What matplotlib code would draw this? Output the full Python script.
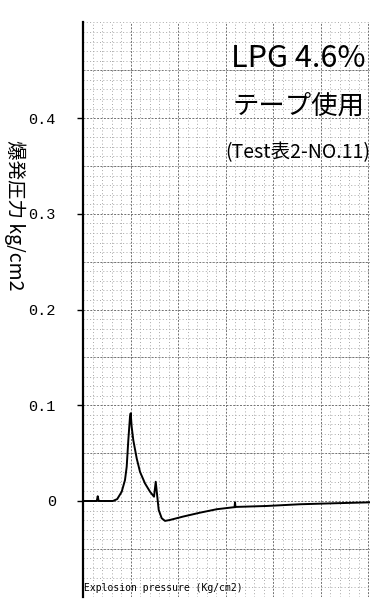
#!/usr/bin/env python3
# Recreate the scanned LPG 4.6% explosion-pressure trace (tape used, Test table 2 No.11)

import numpy as np
import matplotlib
matplotlib.use("Agg")
import matplotlib.pyplot as plt
from matplotlib.ticker import MultipleLocator

# Trace: time in grid divisions, pressure in kg/cm2
time_div = [0.0, 0.29, 0.31, 0.33, 0.63, 0.72, 0.815, 0.884, 0.92, 0.954, 0.989,
            1.004, 1.025, 1.059, 1.131, 1.2, 1.305, 1.411, 1.495, 1.531, 1.564,
            1.594, 1.657, 1.726, 1.832, 2.105, 2.463, 2.815, 3.158, 3.19, 3.2,
            3.21, 3.867, 4.568, 5.263, 6.042]
pressure = [0.0, 0.0, 0.005, 0.0, 0.0, 0.002, 0.0097, 0.0219, 0.0358, 0.0635,
            0.0878, 0.0917, 0.0774, 0.0635, 0.0444, 0.0305, 0.0184, 0.0097,
            0.0045, 0.0201, 0.0045, -0.0094, -0.018, -0.0208, -0.0198, -0.0163,
            -0.0122, -0.0086, -0.0066, -0.0065, -0.0015, -0.0062, -0.0052,
            -0.0034, -0.0024, -0.0014]

ytick_vals = [0.0, 0.1, 0.2, 0.3, 0.4]
ytick_labels = ["0", "0.1", "0.2", "0.3", "0.4"]

ylabel = "爆発圧力 kg/cm2"
notes = ["LPG 4.6%", "テープ使用", "(Test表2-NO.11)"]
xlabel_note = "Explosion pressure (Kg/cm2)"

fig = plt.figure(figsize=(3.83, 6.11), dpi=100)
ax = fig.add_axes([83 / 383, 14.3 / 611, 287 / 383, 574.2 / 611])

ax.set_xlim(0, 6.042)
ax.set_ylim(-0.1, 0.5)

# grid: dashed every division / 0.05, dotted fifths in between
ax.xaxis.set_major_locator(MultipleLocator(1))
ax.xaxis.set_minor_locator(MultipleLocator(0.2))
ax.yaxis.set_minor_locator(MultipleLocator(0.01))
ax.set_yticks(ytick_vals)
ax.set_yticklabels(ytick_labels, family="Liberation Mono", fontsize=11)

ax.grid(which="minor", color="#a8a8a8", linestyle=(0, (1, 2.4)), linewidth=0.7)
ax.grid(which="major", color="#707070", linestyle=(0, (2, 1.5)), linewidth=0.7)
for yv in np.arange(-0.05, 0.5, 0.1):
    ax.axhline(yv, color="#707070", linestyle=(0, (2, 1.5)), linewidth=0.7, zorder=0.5)
ax.set_axisbelow(True)

ax.tick_params(axis="x", which="both", length=0, labelbottom=False)
ax.tick_params(axis="y", which="minor", length=0)
ax.tick_params(axis="y", which="major", direction="out", length=4.5, width=1,
               pad=15, color="black")

for side in ["top", "right", "bottom"]:
    ax.spines[side].set_visible(False)
ax.spines["left"].set_linewidth(1.6)
ax.spines["left"].set_color("black")

ax.plot(time_div, pressure, color="black", linewidth=1.4, zorder=3)

cjk = ["Noto Sans CJK JP", "DejaVu Sans"]
ax.text(0.749, 0.938, notes[0], transform=ax.transAxes, ha="center", va="center",
        fontsize=22, family=cjk, zorder=4)
ax.text(0.749, 0.854, notes[1], transform=ax.transAxes, ha="center", va="center",
        fontsize=19, family=cjk, zorder=4)
ax.text(0.749, 0.774, notes[2], transform=ax.transAxes, ha="center", va="center",
        fontsize=14, family=cjk, zorder=4)

ax.text(0.003, 0.006, xlabel_note, transform=ax.transAxes, ha="left", va="bottom",
        fontsize=7, family="DejaVu Sans Mono", zorder=4)

fig.text(15 / 383, 1 - 215 / 611, ylabel, rotation=-90, ha="center", va="center",
         fontsize=14, family=cjk)

fig.savefig("out.png", dpi=100, facecolor="white")
